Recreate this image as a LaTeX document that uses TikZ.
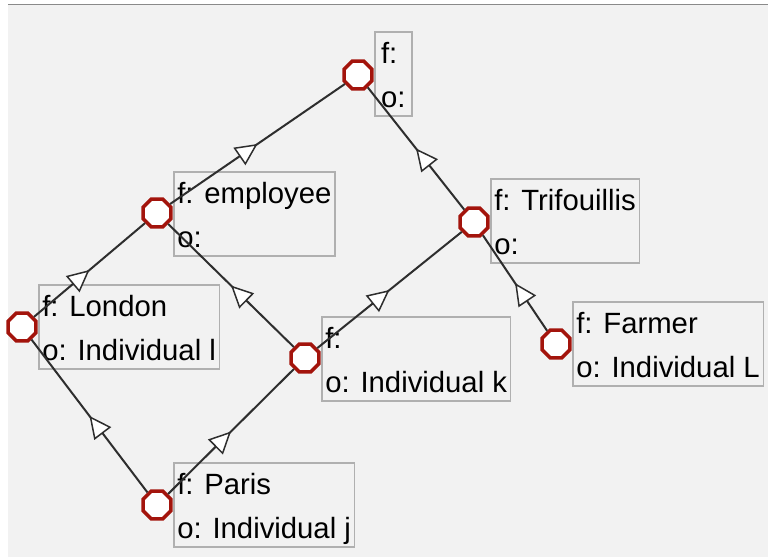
\documentclass[tikz,border=0pt]{standalone}
\usepackage{fontspec}
\setmainfont{Liberation Sans}
\usetikzlibrary{arrows.meta,shapes.geometric,decorations.markings}
\definecolor{canvas}{HTML}{F2F2F2}
\definecolor{rim}{HTML}{8A8A8A}
\definecolor{ring}{HTML}{A3140C}
\definecolor{boxline}{HTML}{B0B0B0}
\definecolor{wire}{HTML}{2E2E2E}
\newcommand{\lstrut}{\rule[-8pt]{0pt}{40pt}}

\begin{document}
\begin{tikzpicture}[x=1pt,y=-1pt,
  concept/.style={regular polygon,regular polygon sides=8,draw=ring,line width=3.5pt,fill=white,minimum size=30pt,inner sep=0pt},
  lbl/.style={draw=boxline,line width=1.5pt,anchor=north west,align=left,inner xsep=3.5pt,inner ysep=0pt,minimum height=84pt,font=\fontsize{29.3}{44}\selectfont},
  isa/.style={draw=wire,line width=2pt,postaction={decorate},
    decoration={markings,mark=at position 0.5 with {\arrow{Triangle[length=22pt,width=21pt,fill=white,line width=1.5pt]}}}}]
        \useasboundingbox (0,0) rectangle (768,557);
        \fill[white] (0,0) rectangle (768,557);
        \fill[canvas] (8,5) rectangle (768,557);
        \draw[rim,line width=1.5pt] (8,4.5) -- (768,4.5);
        % concepts
        \node[concept] (top) at (358,75) {};
        \node[concept] (employee) at (157,213) {};
        \node[concept] (trif) at (474,222) {};
        \node[concept] (london) at (22,327) {};
        \node[concept] (k) at (305,358) {};
        \node[concept] (farmer) at (556,344) {};
        \node[concept] (paris) at (157,505) {};
        % labels
        \node[lbl,minimum width=37pt] (topL) at ([shift={(16,-44)}]top.center) {\lstrut f:\\\lstrut o:};
        \node[lbl] (employeeL) at ([shift={(16,-42)}]employee.center) {\lstrut f: employee\\\lstrut o:};
        \node[lbl] (trifL) at ([shift={(16,-44)}]trif.center) {\lstrut f: Trifouillis\\\lstrut o:};
        \node[lbl] (londonL) at ([shift={(16,-43)}]london.center) {\lstrut f: London\\\lstrut o: Individual l};
        \node[lbl] (kL) at ([shift={(16,-42)}]k.center) {\lstrut f:\\\lstrut o: Individual k};
        \node[lbl] (farmerL) at ([shift={(16,-43)}]farmer.center) {\lstrut f: Farmer\\\lstrut o: Individual L};
        \node[lbl] (parisL) at ([shift={(16,-43)}]paris.center) {\lstrut f: Paris\\\lstrut o: Individual j};
        % edges
        \draw[isa] (employee) -- (top);
        \draw[isa] (trif) -- (top);
        \draw[isa] (london) -- (employee);
        \draw[isa] (k) -- (employee);
        \draw[isa] (k) -- (trif);
        \draw[isa] (farmer) -- (trif);
        \draw[isa] (paris) -- (london);
        \draw[isa] (paris) -- (k);
      \end{tikzpicture}
\end{document}
